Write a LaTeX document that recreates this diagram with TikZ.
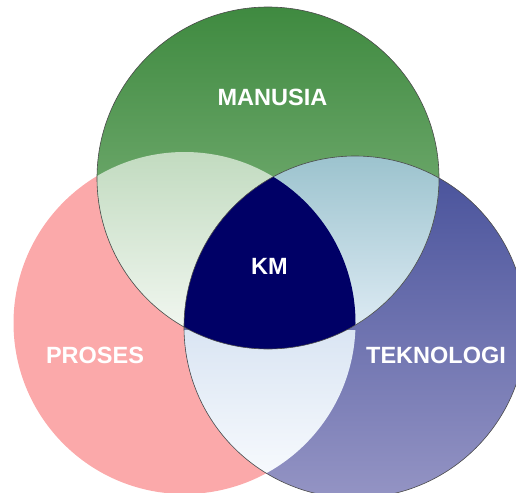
\documentclass[tikz,border=0pt]{standalone}
\usepackage{fontspec}
\setmainfont{Liberation Sans}
\usepackage{xcolor}
\usepackage{tikz}
\usetikzlibrary{calc,positioning}
\definecolor{pinkfill}{HTML}{FBA9AA}
\definecolor{greentop}{HTML}{3F8A40}
\definecolor{greenbot}{HTML}{8FBE8B}
\definecolor{bluetop}{HTML}{46509A}
\definecolor{bluebot}{HTML}{9494C4}
\definecolor{gplenstop}{HTML}{C2DBC0}
\definecolor{gplensbot}{HTML}{F0F6EF}
\definecolor{gblenstop}{HTML}{9CC3CE}
\definecolor{gblensbot}{HTML}{DCEAF3}
\definecolor{pblenstop}{HTML}{DAE5F3}
\definecolor{pblensbot}{HTML}{F6F9FD}
\definecolor{kmnavy}{HTML}{000066}
\definecolor{rimline}{HTML}{4A4A4A}
\tikzset{
  SetLabel/.style={
    text=white, font=\fontsize{23.5}{26}\selectfont\bfseries,
    inner sep=0pt
  },
  Rim/.style={draw=rimline, line width=0.6pt}
}

\begin{document}
\begin{tikzpicture}[x=1pt, y=-1pt, line cap=round, line join=round]
  \useasboundingbox (0,0) rectangle (516,492);
  % circle centres
  \coordinate (M) at (268,178);
  \coordinate (P) at (184.5,323);
  \coordinate (T) at (355,327);
  \def\rad{171}

  % proses (flat pink)
  \fill[pinkfill] (P) circle (\rad);
  % teknologi
  \shade[top color=bluetop, bottom color=bluebot] (T) circle (\rad);
  % manusia
  \shade[top color=greentop, bottom color=greenbot] (M) circle (\rad);

  % manusia & proses
  \begin{scope}
    \clip (M) circle (\rad);
    \clip (P) circle (\rad);
    \shade[top color=gplenstop, bottom color=gplensbot] (0,152) rectangle (516,326);
  \end{scope}
  % manusia & teknologi
  \begin{scope}
    \clip (M) circle (\rad);
    \clip (T) circle (\rad);
    \shade[top color=gblenstop, bottom color=gblensbot] (0,156) rectangle (516,326);
  \end{scope}
  % proses & teknologi
  \begin{scope}
    \clip (P) circle (\rad);
    \clip (T) circle (\rad);
    \shade[top color=pblenstop, bottom color=pblensbot] (0,330) rectangle (516,472);
  \end{scope}
  % all three
  \begin{scope}
    \clip (M) circle (\rad);
    \clip (P) circle (\rad);
    \fill[kmnavy] (T) circle (\rad);
  \end{scope}

  % outlines
  \draw[Rim] (T) circle (\rad);
  \draw[Rim] (M) circle (\rad);

  \node[SetLabel] (manusia) at (272.5,97.5) {MANUSIA};
  \node[SetLabel] (km) at (269.5,266.5) {KM};
  \node[SetLabel] (proses) at (95,355) {PROSES};
  \node[SetLabel] (teknologi) at (436,355) {TEKNOLOGI};
\end{tikzpicture}
\end{document}
